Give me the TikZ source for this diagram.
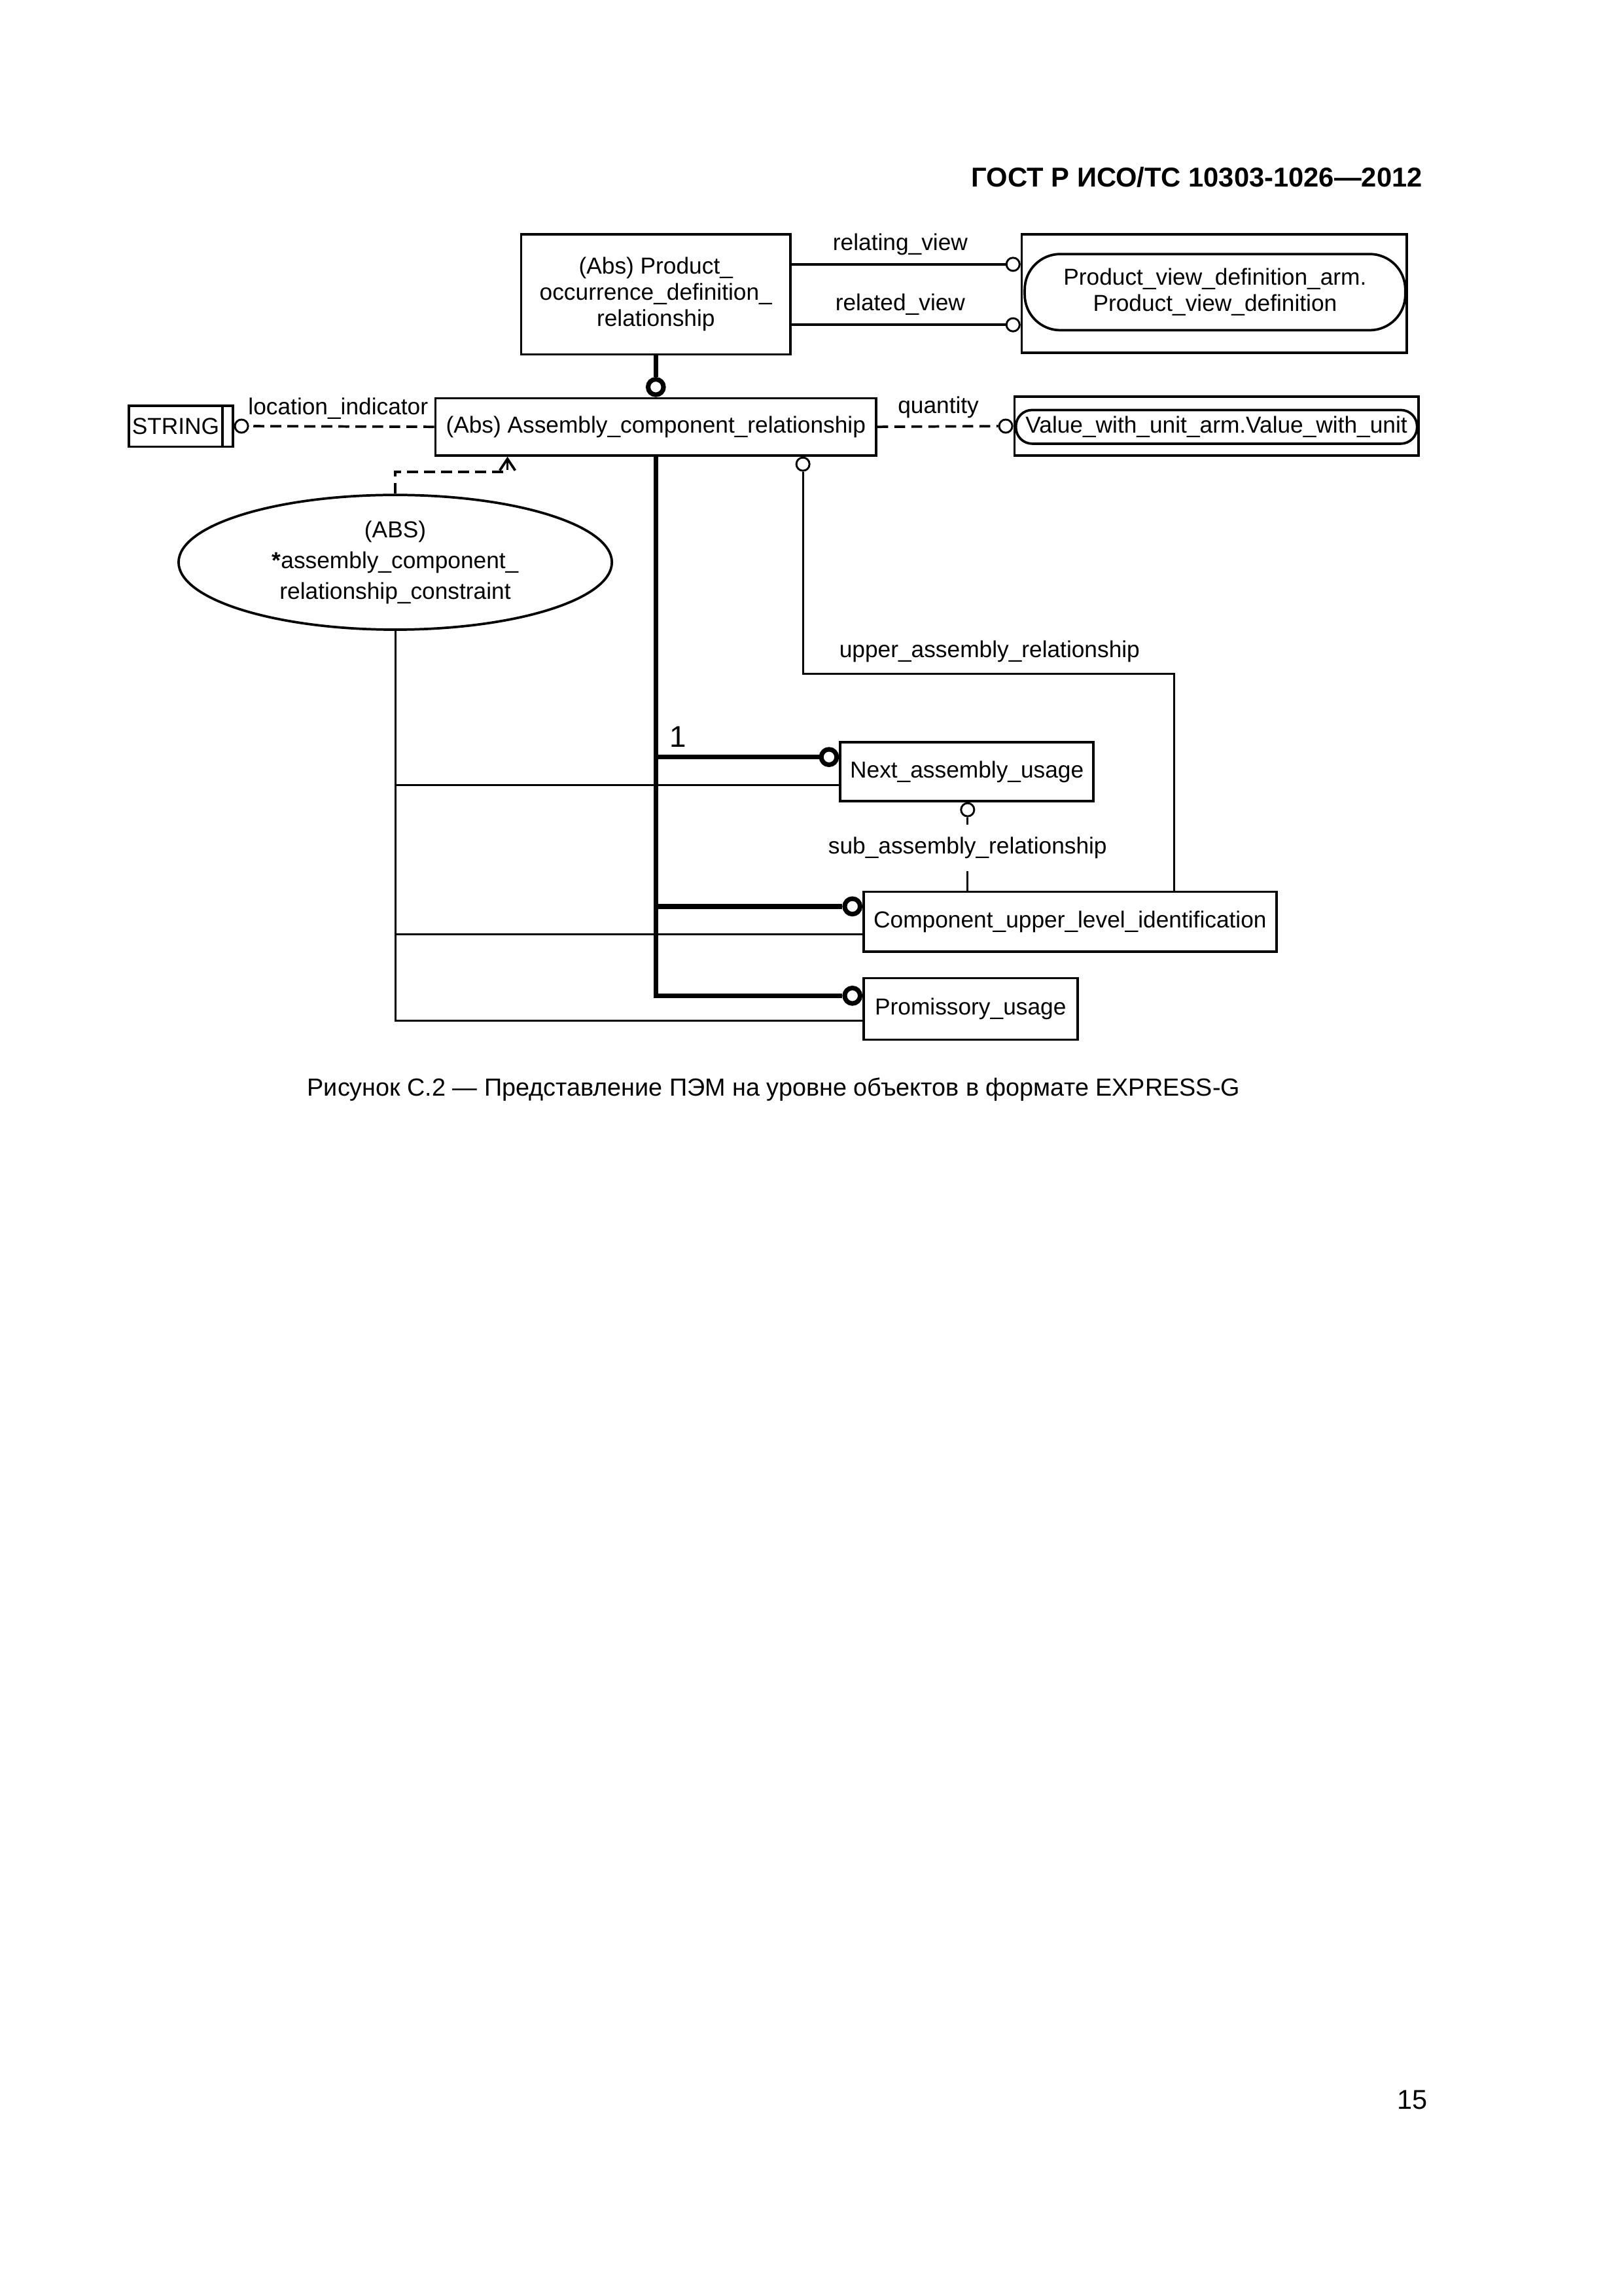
\documentclass[tikz,border=0pt]{standalone}
\usepackage{fontspec}
\setmainfont{Liberation Sans}
\usetikzlibrary{calc,arrows.meta,shapes.geometric}
\begin{document}
\begin{tikzpicture}[x=0.18936mm,y=-0.18936mm,
  every node/.style={font=\fontsize{8.5}{9.6}\selectfont, align=center},
  sz/.style 2 args={minimum width=#1*0.18936mm, minimum height=#2*0.18936mm},
  box/.style={draw, line width=0.9pt, inner sep=0pt},
  pill/.style={draw, line width=0.9pt, inner sep=0pt},
  oc/.style={circle, draw, fill=white, line width=0.7pt, minimum size=1.7mm, inner sep=0pt},
  tc/.style={circle, draw, fill=white, line width=1.7pt, minimum size=2.0mm, inner sep=0pt},
  rel/.style={line width=0.9pt},
  thk/.style={line width=1.8pt},
  thn/.style={line width=0.75pt},
  dsh/.style={line width=0.9pt, dash pattern=on 1.4mm off 0.8mm},
  lbl/.style={inner sep=0pt},
]
\fill[white] (0,0) rectangle (1109,1568);
\useasboundingbox (0,0) rectangle (1109,1568);

% header
\node[font=\bfseries\fontsize{10.05}{12}\selectfont, anchor=east, inner sep=0pt] (hdr) at (972,121) {ГОСТ Р ИСО/ТС 10303-1026—2012};

% top entities
\node[box, sz={184}{82}] (pod) at (448,201) {(Abs) Product\_\\occurrence\_definition\_\\relationship};
\node[box, sz={263}{81}] (pvd) at (829.5,200.5) {};
\node[pill, rounded corners=4.6mm, sz={260}{52}] (pvdi) at (830,199.5) {Product\_view\_definition\_arm.\\Product\_view\_definition};
\node[oc, anchor=east] (c1) at (pvd.west |- 0,180.5) {};
\node[oc, anchor=east] (c2) at (pvd.west |- 0,221.8) {};
\draw[rel] (c1 -| pod.east) -- (c1.west);
\draw[rel] (c2 -| pod.east) -- (c2.west);
\node[lbl] (l1) at (615,167) {relating\_view};
\node[lbl] (l2) at (615,208) {related\_view};

% assembly component relationship
\node[box, sz={301}{39}] (acr) at (448,291.5) {(Abs) Assembly\_component\_relationship};
\node[tc, anchor=south] (c5) at (acr.north) {};
\draw[thk] (pod.south) -- (c5.north);

% STRING
\node[box, sz={64}{28}] (str) at (120,291) {STRING};
\node[box, sz={7}{28}] (strb) at (155.5,291) {};
\node[oc, anchor=west] (c3) at (strb.east) {};
\draw[dsh] (acr.west) -- (c3.east);
\node[lbl] (l3) at (231,279) {location\_indicator};

% Value with unit
\node[box, sz={276}{40}] (val) at (831,291) {};
\node[pill, rounded corners=2.1mm, sz={274}{23}] (vali) at (831,291.5) {Value\_with\_unit\_arm.Value\_with\_unit};
\node[oc, anchor=east] (c4) at (val.west) {};
\draw[dsh] (acr.east) -- (c4.west);
\node[lbl] (l4) at (641,278) {quantity};

% constraint ellipse
\node[ellipse, draw, line width=0.9pt, minimum width=56.05mm, minimum height=17.42mm, inner sep=0pt,
      font=\fontsize{8.5}{11.3}\selectfont] (ell) at (270,384)
      {(ABS)\\\textbf{*}assembly\_component\_\\relationship\_constraint};
\draw[dsh, -{Straight Barb[length=1.5mm, width=2.0mm, line width=0.9pt]}] (ell.north) -- ++(0,-15) -| ($(acr.south west)+(50,0)$);

% subtypes
\node[box, sz={173}{40}] (nau) at (660.5,527) {Next\_assembly\_usage};
\node[box, sz={282}{41}] (culi) at (731,629.5) {Component\_upper\_level\_identification};
\node[box, sz={146}{42}] (pu) at (663,689) {Promissory\_usage};
\node[tc, anchor=east] (c6) at (nau.west |- 0,517) {};
\node[tc, anchor=east] (c7) at (culi.west |- 0,619) {};
\node[tc, anchor=east] (c8) at (pu.west |- 0,680) {};
\draw[thk] (acr.south) |- (c8.west);
\draw[thk] (acr.south |- c6) -- (c6.west);
\draw[thk] (acr.south |- c7) -- (c7.west);
\node[font=\fontsize{11}{12}\selectfont, inner sep=0pt] (one) at (463,503) {1};

% constraint lines
\draw[thn] (ell.south) -- (ell.south |- 0,697) -- (pu.west |- 0,697);
\draw[thn] (ell.south |- 0,536) -- (nau.west |- 0,536);
\draw[thn] (ell.south |- 0,638) -- (culi.west |- 0,638);

% upper_assembly_relationship
\node[oc, anchor=north] (c9) at (acr.south -| 548.5,0) {};
\draw[thn] (c9.south) -- (c9 |- 0,460) -| (culi.north -| 802,0);
\node[lbl] (l5) at (676,445) {upper\_assembly\_relationship};

% sub_assembly_relationship
\node[oc, anchor=north] (c10) at (nau.south -| 661,0) {};
\node[lbl, minimum height=5.87mm] (sar) at (661,579) {sub\_assembly\_relationship};
\draw[thn] (c10.south) -- (c10 |- sar.north);
\draw[thn] (c10 |- sar.south) -- (c10 |- culi.north);

% caption and page number
\node[font=\fontsize{9.1}{11}\selectfont, inner sep=0pt] (cap) at (528.5,744) {Рисунок С.2 — Представление ПЭМ на уровне объектов в формате EXPRESS-G};
\node[font=\fontsize{10}{12}\selectfont, inner sep=0pt] (pg) at (965,1434) {15};
\end{tikzpicture}
\end{document}
